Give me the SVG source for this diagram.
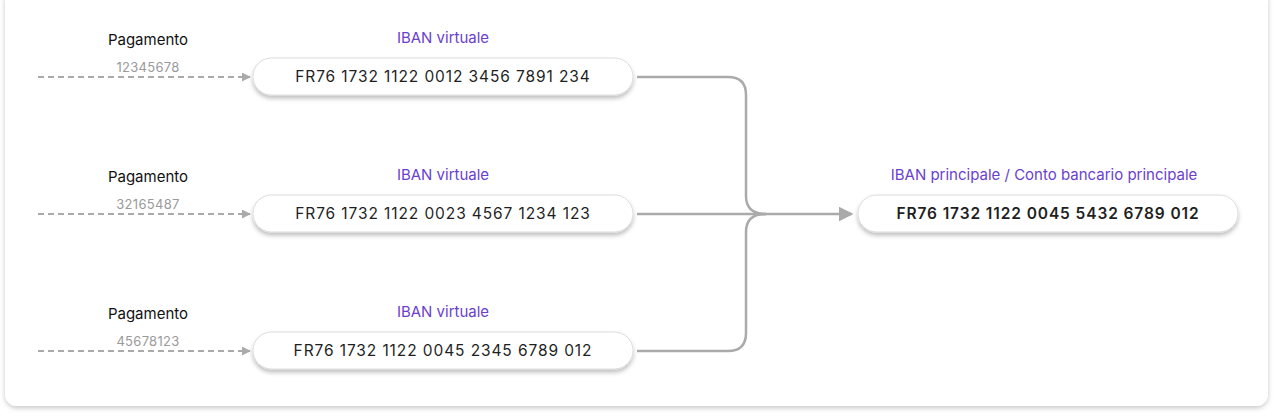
<svg xmlns="http://www.w3.org/2000/svg" width="1274" height="415" viewBox="0 0 1274 415">
<defs>
<filter id="cardShadow" x="-5%" y="-10%" width="110%" height="125%">
<feDropShadow dx="0" dy="2" stdDeviation="2.5" flood-color="#000" flood-opacity="0.22"/>
</filter>
<filter id="boxShadow" x="-10%" y="-30%" width="120%" height="180%">
<feDropShadow dx="0" dy="3" stdDeviation="2" flood-color="#000" flood-opacity="0.25"/>
</filter>
<marker id="arrowSmall" viewBox="0 0 10 10" refX="9" refY="5" markerWidth="9" markerHeight="9" markerUnits="userSpaceOnUse" orient="auto">
<path d="M0,0 L10,5 L0,10 z" fill="#aaaaaa"/>
</marker>
<marker id="arrowBig" viewBox="0 0 10 10" refX="9" refY="5" markerWidth="15" markerHeight="15" markerUnits="userSpaceOnUse" orient="auto">
<path d="M0,0 L10,5 L0,10 z" fill="#aaaaaa"/>
</marker>
</defs>
<style>
.box{fill:#ffffff;stroke:#dcdcdc;stroke-width:1;filter:url(#boxShadow)}
.iban{font-family:Inter,"Liberation Sans",sans-serif;font-size:15.5px;fill:#1f1f1f;text-anchor:middle;letter-spacing:0.9px}
.main{font-weight:600;letter-spacing:0.9px}
.pay{font-family:Inter,"Liberation Sans",sans-serif;font-size:15px;fill:#111;text-anchor:middle}
.num{font-family:Inter,"Liberation Sans",sans-serif;font-size:13px;fill:#9a9a9a;text-anchor:middle;letter-spacing:0.3px}
.lbl{font-family:Inter,"Liberation Sans",sans-serif;font-size:15px;fill:#6a3fd0;text-anchor:middle}
.dash{fill:none;stroke:#aaaaaa;stroke-width:2;stroke-dasharray:6 4;marker-end:url(#arrowSmall)}
.conn{fill:none;stroke:#aaaaaa;stroke-width:2.5}
</style>
<rect width="1274" height="415" fill="#ffffff"/>
<rect x="5" y="-12" width="1263" height="418" rx="12" ry="12" fill="#ffffff" filter="url(#cardShadow)"/>

<g id="connectors">
<path class="dash" d="M38,77 H250"/>
<path class="dash" d="M38,214 H250"/>
<path class="dash" d="M38,351 H250"/>
<path class="conn" d="M637,77 H728 Q746,77 746,95 V196 Q746,214 766,214"/>
<path class="conn" d="M637,351 H728 Q746,351 746,333 V232 Q746,214 766,214"/>
<path class="conn" d="M637,214 H852" marker-end="url(#arrowBig)"/>
</g>

<g id="pay1">
<text class="pay" x="148" y="45">Pagamento</text>
<text class="num" x="148" y="72">12345678</text>
</g>
<g id="pay2">
<text class="pay" x="148" y="182">Pagamento</text>
<text class="num" x="148" y="209">32165487</text>
</g>
<g id="pay3">
<text class="pay" x="148" y="319">Pagamento</text>
<text class="num" x="148" y="346">45678123</text>
</g>

<g id="virtual1">
<text class="lbl" x="443" y="43">IBAN virtuale</text>
<rect class="box" x="253" y="58" width="380" height="37" rx="18.5"/>
<text class="iban" x="443" y="82">FR76 1732 1122 0012 3456 7891 234</text>
</g>
<g id="virtual2">
<text class="lbl" x="443" y="180">IBAN virtuale</text>
<rect class="box" x="253" y="195" width="380" height="37" rx="18.5"/>
<text class="iban" x="443" y="219">FR76 1732 1122 0023 4567 1234 123</text>
</g>
<g id="virtual3">
<text class="lbl" x="443" y="317">IBAN virtuale</text>
<rect class="box" x="253" y="332" width="380" height="37" rx="18.5"/>
<text class="iban" x="443" y="356">FR76 1732 1122 0045 2345 6789 012</text>
</g>
<g id="main">
<text class="lbl" x="1044" y="180">IBAN principale / Conto bancario principale</text>
<rect class="box" x="858" y="195" width="380" height="37" rx="18.5"/>
<text class="iban main" x="1048" y="219">FR76 1732 1122 0045 5432 6789 012</text>
</g>
</svg>
